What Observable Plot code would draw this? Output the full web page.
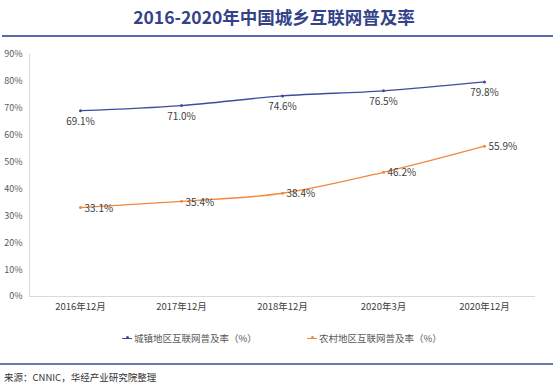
<!DOCTYPE html>
<html><head><meta charset="utf-8">
<script src="https://cdn.jsdelivr.net/npm/d3@7"></script>
<script src="https://cdn.jsdelivr.net/npm/@observablehq/plot@0.6"></script>
<style>
body{margin:0;background:#fff;font-family:"Noto Sans CJK SC","Noto Sans",sans-serif;}
#wrap{width:556px;height:386px;position:relative;overflow:hidden;}
#title{position:absolute;left:0;top:0;width:548px;height:36px;line-height:33px;text-align:center;font-size:17.5px;font-weight:600;color:#34428a;}
#sep1{position:absolute;left:2px;top:35px;width:551px;height:2px;background:#5a69ad;}
#chart{position:absolute;left:0;top:38px;}
#legend{position:absolute;top:330px;left:0;width:556px;height:16px;font-size:9.5px;color:#595959;}
.li{position:absolute;top:0;display:flex;align-items:center;height:16px;}
.mk{position:relative;width:10px;height:16px;margin-right:2px;}
.mk .ln{position:absolute;left:0;top:7.5px;width:10px;height:1px;}
.mk .dt{position:absolute;left:3.5px;top:6px;width:3px;height:3px;border-radius:50%;}
#sep2{position:absolute;left:0;top:363px;width:553px;height:2px;background:#6a77b5;}
#cap{position:absolute;left:4px;top:370px;font-size:9.5px;color:#333;}
</style></head>
<body><div id="wrap">
<div id="title">2016-2020年中国城乡互联网普及率</div>
<div id="sep1"></div>
<div id="chart"></div>
<div id="legend"></div>
<div id="sep2"></div>
<div id="cap">来源：CNNIC，华经产业研究院整理</div>
</div>
<script>
const categories = ["2016年12月","2017年12月","2018年12月","2020年3月","2020年12月"];
const urban = [69.1, 71.0, 74.6, 76.5, 79.8];
const rural = [33.1, 35.4, 38.4, 46.2, 55.9];
const seriesNames = ["城镇地区互联网普及率（%）","农村地区互联网普及率（%）"];
const yTicks = [0,10,20,30,40,50,60,70,80,90];
const colors = ["#3d4c9e","#f0883e"];

const urbanData = categories.map((c,i)=>({cat:c, v:urban[i]}));
const ruralData = categories.map((c,i)=>({cat:c, v:rural[i]}));
const fmt = v => v.toFixed(1) + "%";

const plot = Plot.plot({
  width:556, height:282,
  marginTop:16, marginBottom:24, marginLeft:29, marginRight:21,
  style:{fontFamily:'"Noto Sans CJK SC","Noto Sans",sans-serif', background:"transparent"},
  x:{type:"point", domain:categories, padding:0.5, label:null},
  y:{domain:[0,90], label:null},
  marks:[
    Plot.frame({anchor:"left", stroke:"#d9d9d9"}),
    Plot.ruleY([0], {stroke:"#d9d9d9"}),
    Plot.axisY({ticks:yTicks, tickFormat:d=>d+"%", tickSize:0, tickPadding:7, fontSize:9, fill:"#595959", label:null}),
    Plot.axisX({tickSize:0, tickPadding:7, fontSize:9.5, fill:"#404040", label:null}),
    Plot.line(urbanData, {x:"cat", y:"v", stroke:colors[0], strokeWidth:1.3, curve:"monotone-x"}),
    Plot.dot(urbanData, {x:"cat", y:"v", r:1.5, fill:colors[0]}),
    Plot.text(urbanData, {x:"cat", y:"v", text:d=>fmt(d.v), dy:11, fontSize:10, fill:"#404040"}),
    Plot.line(ruralData, {x:"cat", y:"v", stroke:colors[1], strokeWidth:1.3, curve:"monotone-x"}),
    Plot.dot(ruralData, {x:"cat", y:"v", r:1.5, fill:colors[1]}),
    Plot.text(ruralData, {x:"cat", y:"v", text:d=>fmt(d.v), dx:4, dy:1, textAnchor:"start", fontSize:10, fill:"#404040"})
  ]
});
document.getElementById("chart").appendChild(plot);

const legend = document.getElementById("legend");
const lefts = [122, 307];
seriesNames.forEach((n,i)=>{
  const d = document.createElement("div");
  d.className = "li";
  d.style.left = lefts[i] + "px";
  d.innerHTML = `<div class="mk"><div class="ln" style="background:${colors[i]}"></div><div class="dt" style="background:${colors[i]}"></div></div><span>${n}</span>`;
  legend.appendChild(d);
});
</script>
</body></html>
